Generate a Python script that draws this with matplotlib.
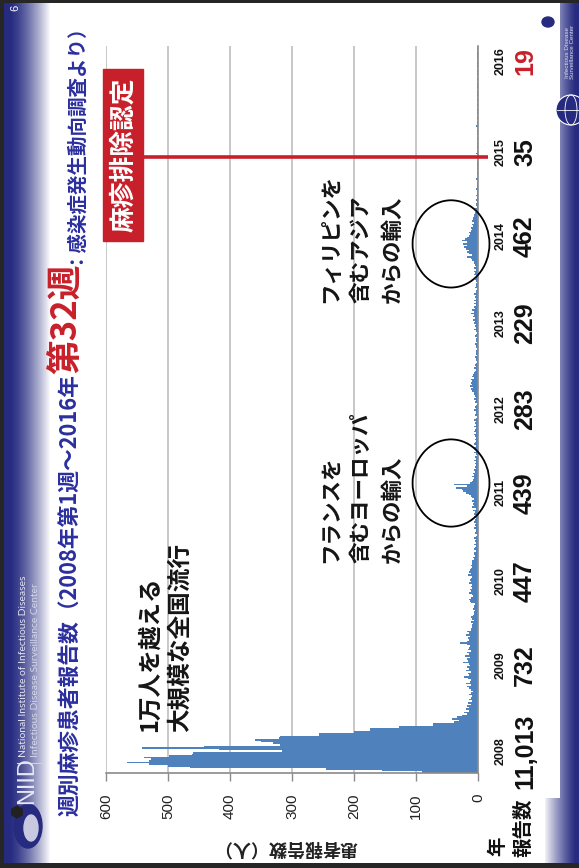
import numpy as np
import matplotlib.pyplot as plt
from matplotlib import transforms
from matplotlib.patches import Ellipse, Rectangle, Circle, RegularPolygon

W, H = 579, 868
JP = ['Noto Sans CJK JP', 'DejaVu Sans']
SANS = ['Liberation Sans', 'DejaVu Sans']
plt.rcParams['font.family'] = JP

# weekly measles reports (2008 week 1 .. 2016 week 32)
w2008 = [90, 155, 245, 465, 500, 530, 566, 530, 528, 539, 499, 461, 460, 316, 418, 542, 442, 319,
         330, 350, 359, 321, 319, 257, 257, 200, 174, 174, 128, 72, 72, 39, 31, 42, 34, 26, 18, 22,
         15, 20, 14, 18, 12, 16, 10, 14, 12, 9, 15, 11, 8, 12]
w2009 = [15, 17, 12, 19, 13, 11, 16, 22, 14, 16, 12, 20, 15, 17, 13, 14, 24, 16, 18, 13, 21, 15,
         17, 12, 16, 14, 13, 18, 29, 17, 14, 16, 13, 19, 15, 17, 12, 11, 10, 9, 8, 12, 7, 10, 11,
         8, 6, 7, 5, 8, 6, 7, 5]
w2010 = [11, 13, 14, 12, 8, 10, 14, 11, 13, 9, 12, 10, 15, 11, 13, 12, 10, 16, 11, 14, 13, 12,
         10, 11, 10, 10, 9, 6, 8, 5, 7, 6, 4, 7, 5, 3, 6, 4, 5, 3, 6, 4, 2, 5, 3, 4, 6, 3, 5, 4, 6, 5]
w2011 = [4, 6, 3, 7, 5, 8, 4, 9, 6, 8, 6, 10, 7, 9, 12, 14, 20, 24, 26, 35, 18, 39, 13, 10, 8, 7,
         9, 6, 8, 5, 7, 4, 5, 3, 5, 4, 6, 3, 5, 2, 4, 6, 3, 5, 6, 4, 7, 5, 3, 5, 4, 5]
w2012 = [6, 4, 7, 5, 3, 6, 4, 5, 3, 6, 4, 2, 5, 3, 4, 6, 3, 5, 4, 2, 5, 3, 6, 4, 5, 7, 6, 9, 11,
         8, 13, 10, 12, 9, 11, 7, 10, 8, 6, 5, 4, 6, 3, 5, 4, 2, 4, 3, 5, 2, 4, 3]
w2013 = [3, 2, 4, 3, 5, 2, 3, 4, 2, 5, 3, 2, 4, 6, 3, 5, 4, 7, 5, 8, 5, 8, 6, 12, 7, 9, 5, 6, 4,
         7, 4, 6, 3, 5, 4, 6, 3, 4, 2, 5, 3, 4, 2, 3, 5, 3, 4, 6, 5, 7, 4, 6]
w2014 = [3, 5, 7, 6, 9, 12, 17, 10, 15, 18, 14, 20, 22, 17, 24, 18, 26, 21, 18, 15, 13, 15, 12,
         10, 11, 8, 10, 7, 9, 8, 8, 6, 7, 5, 4, 3, 5, 2, 4, 3, 2, 3, 1, 2, 3, 2, 1, 2, 3, 1, 2, 1]
w2015 = [1, 0, 3, 1, 0, 1, 2, 0, 1, 1, 0, 2, 1, 0, 0, 1, 0, 1, 3, 1, 0, 0, 1, 0, 2, 0, 0, 1, 0,
         0, 1, 0, 1, 0, 0, 3, 0, 1, 0, 0, 2, 0, 0, 1, 0, 1, 0, 0, 1, 0, 0, 1, 0]
w2016 = [0, 1, 0, 1, 0, 0, 1, 0, 1, 0, 0, 1, 0, 0, 2, 0, 1, 0, 0, 1, 0, 1, 0, 0, 1, 2, 2, 2, 0,
         0, 2, 0]

years = ['2008', '2009', '2010', '2011', '2012', '2013', '2014', '2015', '2016']
totals = ['11,013', '732', '447', '439', '283', '229', '462', '35', '19']
yearly = [w2008, w2009, w2010, w2011, w2012, w2013, w2014, w2015, w2016]
value_ticks = [0, 100, 200, 300, 400, 500, 600]

weekly = sum(yearly, [])
n = len(weekly)
starts = np.cumsum([0] + [len(w) for w in yearly])
# where the year captions sit (bar index)
caption_weeks = [14, 67, 119, 174, 226, 279, 333, 385, 441]
elimination = starts[7] + 17      # 2015
ring_weeks = [starts[3] + 23, starts[6] + 15]

NAVY = np.array([38, 43, 128]) / 255
BLUE = '#2b2f9e'
RED = '#c8202b'
BAR = '#4f81bd'

fig = plt.figure(figsize=(W / 100, H / 100), dpi=100)

# slide background: blue bands at left and right, dark frame
bg = fig.add_axes([0, 0, 1, 1], zorder=0)
img = np.ones((H, W, 3))
xs = np.arange(W)
tl = np.clip((xs - 9) / 41.0, 0, 1) ** 1.4
tr = np.clip((W - 4 - xs) / 32.0, 0, 1) ** 1.2
col = np.ones((W, 3))
col[xs < 50] = NAVY + (1 - NAVY) * tl[xs < 50, None]
col[xs >= 545] = NAVY + (1 - NAVY) * tr[xs >= 545, None]
img[:] = col[None, :, :]
img[:798, 50:560] = 1.0
img[:3, :] = 0.15
img[-5:, :] = 0.15
img[:, :4] = 0.15
bg.imshow(img, extent=(0, W, H, 0), interpolation='none', aspect='auto')
bg.set_xlim(0, W)
bg.set_ylim(H, 0)
bg.axis('off')

# NIID branding in the left band
bg.text(15, 8, '6', rotation=90, color='white', fontsize=8, ha='center', va='center',
        family=SANS)
bg.text(24, 757, 'National Institute of Infectious Diseases', rotation=90, color='#e4e4f2',
        fontsize=7.5, family=['Lato', 'DejaVu Sans'], ha='center', va='bottom')
bg.text(36, 757, 'Infectious Disease Surveillance Center', rotation=90, color='#d4d4e8',
        fontsize=7.5, family=['Lato', 'DejaVu Sans'], ha='center', va='bottom')
bg.plot([17, 42], [763, 763], color='#d0d0e0', lw=0.8)
bg.text(27, 781, 'NIID', rotation=90, color='#e8e8f2', fontsize=17, family=SANS,
        ha='center', va='center')
bg.add_patch(Ellipse((28, 826), 28, 44, color='#262b80'))
bg.add_patch(Ellipse((31, 828), 14, 26, color='#c8c8e0'))
bg.add_patch(RegularPolygon((17, 812), 6, radius=6, color='#222222'))

# surveillance centre mark, top right
bg.add_patch(Ellipse((548, 22), 12, 10, color='#262b80'))
bg.text(570, 52, 'Infectious Disease\nSurveillance Center', rotation=90, color='#dcdcee',
        fontsize=4.5, family=SANS, ha='center', va='center', linespacing=1.0)
bg.add_patch(Circle((571, 110), 15, facecolor='#262b80', edgecolor='white', lw=0.8))
bg.plot([557, 585], [110, 110], color='white', lw=0.6)
bg.add_patch(Ellipse((571, 110), 12, 30, fill=False, edgecolor='white', lw=0.6))

# the chart itself, rotated a quarter turn: weeks run upwards, counts run leftwards
ax = fig.add_axes([106 / W, 1 - 773 / H, (478 - 106) / W, (773 - 46) / H], zorder=1)
ax.patch.set_alpha(0)
ax.barh(np.arange(1, n + 1), weekly, height=1.0, color=BAR, linewidth=0)
ax.set_xlim(600, 0)
ax.set_ylim(0.5, n + 0.5)
ax.set_xticks(value_ticks)
ax.set_yticks([])
ax.xaxis.grid(True, color='#c4c4c4', lw=1.3)
ax.set_axisbelow(True)
for side in ['top', 'left']:
    ax.spines[side].set_visible(False)
for side in ['right', 'bottom']:
    ax.spines[side].set_color('#8a8a8a')
    ax.spines[side].set_linewidth(1.2)
ax.tick_params(axis='x', direction='out', length=6, width=1, color='#8a8a8a',
               labelsize=11, labelrotation=90, pad=9, labelcolor='#222222')
for lab in ax.get_xticklabels():
    lab.set_fontfamily(SANS)

# overlay in pixel coordinates for the slide texts
top = fig.add_axes([0, 0, 1, 1], zorder=3)
top.set_xlim(0, W)
top.set_ylim(H, 0)
top.axis('off')
px_week = transforms.blended_transform_factory(top.transData, ax.transData)

for yr, tot, wk in zip(years, totals, caption_weeks):
    top.text(501, wk, yr, transform=px_week, rotation=90, ha='center', va='center',
             fontsize=9, fontweight='bold', family=SANS, color='#111111')
    top.text(525, wk, tot, transform=px_week, rotation=90, ha='center', va='center',
             fontsize=18, fontweight='bold', family=SANS,
             color=RED if yr == '2016' else '#111111')
top.text(498, 846, '年', rotation=90, ha='center', va='center', fontsize=14,
         fontweight='bold', color='#111111')
top.text(524, 828, '報告数', rotation=90, ha='center', va='center', fontsize=14,
         fontweight='bold', color='#111111')
top.text(285, 848, '患者報告数（人）', rotation=180, ha='center', va='center', fontsize=13,
         fontweight='bold', color='#222222')

# title, built from coloured pieces laid end to end
renderer = fig.canvas.get_renderer()
title_parts = [('週別麻疹患者報告数（2008年第1週～2016年', 15.7, BLUE),
               ('第32週', 25, RED),
               ('：感染症発生動向調査より）', 14, BLUE)]
ty = 816
for s, size, c in title_parts:
    t = top.text(77, ty, s, rotation=90, rotation_mode='anchor', ha='left', va='baseline',
                 fontsize=size, fontweight='bold', color=c)
    ty -= t.get_window_extent(renderer).height

# annotations
notes = [('1万人を越える', 150, 732, 17), ('大規模な全国流行', 180, 732, 17),
         ('フランスを', 331, 563, 15.5), ('含むヨーロッパ', 361, 563, 15.5),
         ('からの輸入', 392, 563, 15.5),
         ('フィリピンを', 331, 303, 15.5), ('含むアジア', 361, 303, 15.5),
         ('からの輸入', 392, 303, 15.5)]
for s, x, y, size in notes:
    top.text(x, y, s, rotation=90, rotation_mode='anchor', ha='left', va='center',
             fontsize=size, fontweight='bold', color='#151515')

for wk in ring_weeks:
    ax.add_patch(Ellipse((43.5, wk), 124, 54, fill=False, edgecolor='black', lw=1.3,
                         clip_on=False, zorder=5))

# elimination marker
ax.plot([540, -16], [elimination, elimination], color=RED, lw=2.6, clip_on=False,
        solid_capstyle='butt', zorder=5)
top.add_patch(Rectangle((103, 69), 40, 172, color=RED))
top.text(124, 155, '麻疹排除認定', rotation=90, ha='center', va='center', fontsize=18.5,
         fontweight='bold', color='white')

fig.savefig('out.png', dpi=100)
